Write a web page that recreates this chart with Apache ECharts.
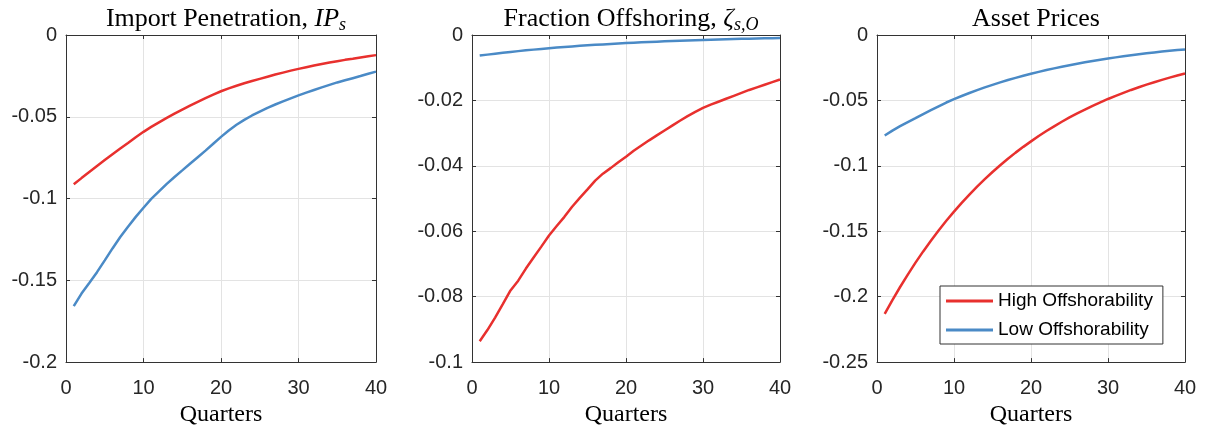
<!DOCTYPE html>
<html>
<head>
<meta charset="utf-8">
<title>Impulse responses</title>
<script src="https://cdn.jsdelivr.net/npm/echarts@6/dist/echarts.min.js"></script>
<style>
  html, body { margin: 0; padding: 0; background: #fff; }
  #chart { width: 1208px; height: 432px; }
</style>
</head>
<body>
<div id="chart"></div>
<script>
// Horizon in quarters
const quarters = [1,2,3,4,5,6,7,8,9,10,11,12,13,14,15,16,17,18,19,20,
                  21,22,23,24,25,26,27,28,29,30,31,32,33,34,35,36,37,38,39,40];

// Import penetration responses
const importHigh = [-0.0913,-0.0875,-0.0838,-0.0801,-0.0765,-0.0729,-0.0694,-0.0660,-0.0625,-0.0592,
                    -0.0562,-0.0534,-0.0507,-0.0481,-0.0456,-0.0432,-0.0409,-0.0386,-0.0364,-0.0344,
                    -0.0326,-0.0310,-0.0295,-0.0281,-0.0268,-0.0255,-0.0242,-0.0230,-0.0218,-0.0207,
                    -0.0197,-0.0187,-0.0177,-0.0168,-0.0160,-0.0152,-0.0145,-0.0137,-0.0130,-0.0123];
const importLow  = [-0.1658,-0.1581,-0.1516,-0.1450,-0.1378,-0.1305,-0.1235,-0.1172,-0.1112,-0.1056,
                    -0.1002,-0.0956,-0.0910,-0.0868,-0.0828,-0.0787,-0.0747,-0.0707,-0.0665,-0.0623,
                    -0.0584,-0.0549,-0.0519,-0.0492,-0.0468,-0.0445,-0.0425,-0.0406,-0.0387,-0.0369,
                    -0.0352,-0.0336,-0.0320,-0.0305,-0.0290,-0.0277,-0.0264,-0.0251,-0.0237,-0.0224];

// Fraction offshoring responses
const offshHigh = [-0.0936,-0.0902,-0.0864,-0.0823,-0.0781,-0.0751,-0.0714,-0.0680,-0.0647,-0.0613,
                   -0.0584,-0.0556,-0.0525,-0.0498,-0.0472,-0.0445,-0.0424,-0.0407,-0.0389,-0.0372,
                   -0.0354,-0.0338,-0.0322,-0.0307,-0.0292,-0.0277,-0.0262,-0.0248,-0.0235,-0.0223,
                   -0.0213,-0.0204,-0.0195,-0.0186,-0.0177,-0.0168,-0.0160,-0.0152,-0.0144,-0.0136];
const offshLow  = [-0.00630,-0.00600,-0.00571,-0.00544,-0.00518,-0.00493,-0.00469,-0.00447,-0.00425,-0.00405,
                   -0.00385,-0.00367,-0.00349,-0.00332,-0.00316,-0.00301,-0.00287,-0.00273,-0.00260,-0.00247,
                   -0.00235,-0.00224,-0.00213,-0.00203,-0.00193,-0.00184,-0.00175,-0.00167,-0.00159,-0.00151,
                   -0.00144,-0.00137,-0.00130,-0.00124,-0.00118,-0.00112,-0.00107,-0.00102,-0.00097,-0.00092];

// Asset price responses
const assetHigh = [-0.2132,-0.2026,-0.1926,-0.1831,-0.1740,-0.1654,-0.1572,-0.1494,-0.1420,-0.1350,
                   -0.1283,-0.1220,-0.1159,-0.1102,-0.1047,-0.0996,-0.0946,-0.0899,-0.0855,-0.0813,
                   -0.0772,-0.0734,-0.0698,-0.0663,-0.0630,-0.0599,-0.0570,-0.0541,-0.0515,-0.0489,
                   -0.0465,-0.0442,-0.0420,-0.0399,-0.0379,-0.0361,-0.0343,-0.0326,-0.0310,-0.0294];
const assetLow  = [-0.0768,-0.0731,-0.0697,-0.0666,-0.0636,-0.0604,-0.0574,-0.0545,-0.0516,-0.0490,
                   -0.0466,-0.0443,-0.0421,-0.0400,-0.0381,-0.0362,-0.0344,-0.0328,-0.0312,-0.0296,
                   -0.0282,-0.0268,-0.0255,-0.0243,-0.0231,-0.0220,-0.0209,-0.0199,-0.0189,-0.0180,
                   -0.0171,-0.0163,-0.0155,-0.0147,-0.0140,-0.0133,-0.0127,-0.0121,-0.0115,-0.0110];

// Axis ticks
const xTicks = [0, 10, 20, 30, 40];
const yTicksImport = [-0.2, -0.15, -0.1, -0.05, 0];
const yTicksOffsh  = [-0.1, -0.08, -0.06, -0.04, -0.02, 0];
const yTicksAsset  = [-0.25, -0.2, -0.15, -0.1, -0.05, 0];

const seriesNames = ['High Offshorability', 'Low Offshorability'];
const xName = 'Quarters';

const RED = '#e8302e';
const BLUE = '#4a8ac6';
const AXIS = '#333333';
const SANS = '"Liberation Sans", Arial, Helvetica, sans-serif';
const SERIF = '"Liberation Serif", "Times New Roman", serif';

const panels = [
  { title: '{n|Import Penetration, }{m|IP}{sub|s}', ticks: yTicksImport, high: importHigh, low: importLow,
    grid: { left: 66, top: 35, width: 310, height: 330 } },
  { title: '{n|Fraction Offshoring, }{m|ζ}{sub|s,O}', ticks: yTicksOffsh, high: offshHigh, low: offshLow,
    grid: { left: 472, top: 35, width: 308, height: 330 } },
  { title: '{n|Asset Prices}', ticks: yTicksAsset, high: assetHigh, low: assetLow,
    grid: { left: 877, top: 35, width: 308, height: 330 } }
];

const pairs = (ys) => quarters.map((q, i) => [q, ys[i]]);

const option = {
  backgroundColor: '#ffffff',
  animation: false,
  title: [],
  grid: [],
  xAxis: [],
  yAxis: [],
  series: [],
  legend: {
    data: seriesNames.map(n => ({ name: n, icon: 'rect' })),
    orient: 'vertical',
    left: 940,
    top: 286,
    padding: [5, 10, 4, 6],
    itemGap: 9,
    itemWidth: 47,
    itemHeight: 3,
    backgroundColor: '#ffffff',
    borderColor: AXIS,
    borderWidth: 1,
    borderRadius: 0,
    textStyle: { fontFamily: SANS, fontSize: 19, color: '#000', lineHeight: 20 }
  }
};

const tickStyle = { show: true, inside: true, length: 4, lineStyle: { color: AXIS, width: 1 } };

panels.forEach((p, k) => {
  const g = p.grid;
  option.grid.push(Object.assign({ containLabel: false }, g));
  option.title.push({
    text: p.title,
    left: g.left + g.width / 2,
    top: -1,
    textAlign: 'center',
    textStyle: {
      fontWeight: 'normal',
      rich: {
        n: { fontFamily: SERIF, fontWeight: 'normal', fontSize: 26, color: '#000', lineHeight: 30 },
        m: { fontFamily: SERIF, fontWeight: 'normal', fontStyle: 'italic', fontSize: 26, color: '#000', lineHeight: 30 },
        sub: { fontFamily: SERIF, fontWeight: 'normal', fontStyle: 'italic', fontSize: 18, color: '#000',
               lineHeight: 17, verticalAlign: 'bottom' }
      }
    }
  });

  const yMin = p.ticks[0], yMax = p.ticks[p.ticks.length - 1];
  const yStep = +(p.ticks[1] - p.ticks[0]).toFixed(4);
  const xStep = xTicks[1] - xTicks[0];

  // bottom and left axes carry labels and grid lines
  option.xAxis.push({
    type: 'value', gridIndex: k, position: 'bottom',
    min: xTicks[0], max: xTicks[xTicks.length - 1], interval: xStep,
    name: xName, nameLocation: 'middle', nameGap: 39,
    nameTextStyle: { fontFamily: SERIF, fontSize: 24, color: '#000' },
    axisLine: { show: true, onZero: false, lineStyle: { color: AXIS, width: 1 } },
    axisTick: tickStyle,
    axisLabel: { fontFamily: SANS, fontSize: 20, color: '#262626', margin: 16 },
    splitLine: { show: true, lineStyle: { color: '#e3e3e3', width: 1 } }
  });
  option.yAxis.push({
    type: 'value', gridIndex: k, position: 'left',
    min: yMin, max: yMax, interval: yStep,
    axisLine: { show: true, onZero: false, lineStyle: { color: AXIS, width: 1 } },
    axisTick: tickStyle,
    axisLabel: { fontFamily: SANS, fontSize: 20, color: '#262626', margin: 9 },
    splitLine: { show: true, lineStyle: { color: '#e3e3e3', width: 1 } }
  });
  // top and right axes close the box with inward ticks
  option.xAxis.push({
    type: 'value', gridIndex: k, position: 'top',
    min: xTicks[0], max: xTicks[xTicks.length - 1], interval: xStep,
    axisLine: { show: true, onZero: false, lineStyle: { color: AXIS, width: 1 } },
    axisTick: tickStyle, axisLabel: { show: false }, splitLine: { show: false }
  });
  option.yAxis.push({
    type: 'value', gridIndex: k, position: 'right',
    min: yMin, max: yMax, interval: yStep,
    axisLine: { show: true, onZero: false, lineStyle: { color: AXIS, width: 1 } },
    axisTick: tickStyle, axisLabel: { show: false }, splitLine: { show: false }
  });

  [[p.high, RED, 0], [p.low, BLUE, 1]].forEach(([ys, color, j]) => {
    option.series.push({
      name: seriesNames[j],
      type: 'line',
      xAxisIndex: 2 * k,
      yAxisIndex: 2 * k,
      data: pairs(ys),
      symbol: 'none',
      smooth: false,
      lineStyle: { color: color, width: 2.5 },
      itemStyle: { color: color },
      z: 3
    });
  });
});

const chart = echarts.init(document.getElementById('chart'), null, { renderer: 'canvas' });
chart.setOption(option);
</script>
</body>
</html>
